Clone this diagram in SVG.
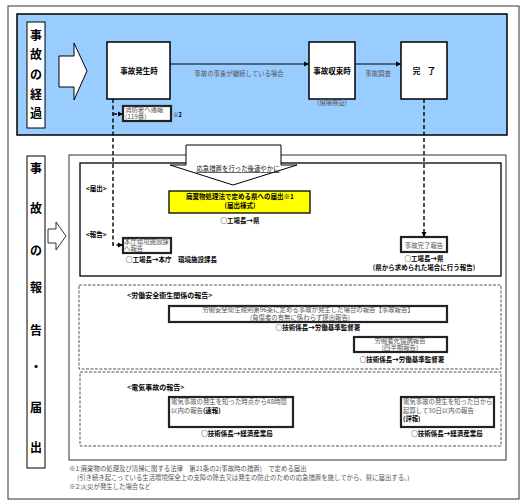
<svg xmlns="http://www.w3.org/2000/svg" width="526" height="504" viewBox="0 0 526 504">
<defs>
<style>
text{font-family:"Noto Sans CJK JP","Noto Sans CJK SC",sans-serif;}
.box{fill:#fff;stroke:#000;stroke-width:1.5;}
.thk{fill:#fff;stroke:#222;stroke-width:2.2;}
.b{font-weight:bold;fill:#000;}
.t{fill:#555;font-size:6.4px;}
.s{fill:#111;font-size:6.4px;}
.vl{font-size:12px;font-weight:bold;fill:#000;text-anchor:middle;}
.dbox{fill:none;stroke:#555;stroke-width:1;stroke-dasharray:3 1.5;}
.dash{fill:none;stroke:#000;stroke-width:1.4;stroke-dasharray:4 2.5;}
.con{fill:none;stroke:#000;stroke-width:1;}
.mid{text-anchor:middle;}
</style>
<marker id="ah" markerWidth="6" markerHeight="6" refX="5" refY="3" orient="auto" markerUnits="userSpaceOnUse">
<path d="M0,0.5 L5,3 L0,5.5 Z" fill="#000"/>
</marker>
</defs>
<rect x="0" y="0" width="526" height="504" fill="#fff"/>
<rect x="8" y="6" width="511" height="493" fill="none" stroke="#333" stroke-width="1"/>

<g id="sec-progress">
<rect x="17" y="14" width="490" height="121" fill="#99CCFF" stroke="#000" stroke-width="1.5"/>
<rect x="27" y="22" width="18" height="106" fill="#fff" stroke="#000" stroke-width="1"/>
<text class="vl" x="36" y="40">事</text>
<text class="vl" x="36" y="59">故</text>
<text class="vl" x="36" y="79">の</text>
<text class="vl" x="36" y="99">経</text>
<text class="vl" x="36" y="118">過</text>
<path d="M59,56 L74,56 L74,43 L87,71 L74,100 L74,87 L59,87 Z" fill="#fff" stroke="#000" stroke-width="1"/>
</g>

<g id="n-occur">
<rect class="box" x="107" y="42" width="63" height="57"/>
<text class="b mid" x="139" y="74" font-size="7.5">事故発生時</text>
</g>
<g id="n-settle">
<rect class="box" x="309" y="42" width="46" height="57"/>
<text class="b mid" x="332" y="74" font-size="7.5">事故収束時</text>
<text class="t mid" x="332" y="105">(現場検証)</text>
</g>
<g id="n-done">
<rect class="box" x="401" y="42" width="46" height="57"/>
<text class="b mid" x="424" y="74" font-size="7.5">完　了</text>
</g>
<g id="n-fire">
<rect class="thk" x="123" y="106" width="48" height="15"/>
<text class="t" x="125" y="111.8" font-size="5px">消防署へ通報</text>
<text class="t" x="125" y="119.3" font-size="5px">(119番)</text>
<text class="b" x="173" y="117" font-size="5.5">※2</text>
</g>

<g id="sec-report">
<rect x="27" y="156" width="18" height="312" fill="#fff" stroke="#000" stroke-width="1"/>
<text class="vl" x="36" y="173">事</text>
<text class="vl" x="36" y="213">故</text>
<text class="vl" x="36" y="255">の</text>
<text class="vl" x="36" y="292">報</text>
<text class="vl" x="36" y="335">告</text>
<text class="vl" x="36" y="372">・</text>
<text class="vl" x="36" y="412">届</text>
<text class="vl" x="36" y="452">出</text>
<path d="M48,229 L56,229 L56,222 L66,236 L56,250 L56,243 L48,243 Z" fill="#fff" stroke="#000" stroke-width="0.8"/>
<rect x="69" y="155" width="437" height="305" fill="none" stroke="#333" stroke-width="1"/>
<rect x="80" y="163" width="421" height="113" fill="none" stroke="#000" stroke-width="1.3"/>
<text class="b" x="86" y="191" font-size="6.5">&lt;届出&gt;</text>
<text class="b" x="86" y="237" font-size="6.5">&lt;報告&gt;</text>
<path d="M186,145 L281,145 L281,165 L297,165 L233,185 L170,165 L186,165 Z" fill="#fff" stroke="#000" stroke-width="1"/>
<text class="s mid" x="238" y="171" font-size="6.2" text-decoration="underline">応急措置を行った後速やかに</text>
</g>

<g id="n-notify">
<rect x="169" y="191" width="141" height="22" fill="#FFFF00" stroke="#000" stroke-width="1.3"/>
<text class="b mid" x="240" y="199" font-size="6.5">廃棄物処理法で定める県への届出※1</text>
<text class="b mid" x="240" y="208" font-size="6.5">(届出様式)</text>
<text class="b mid" x="240" y="223" font-size="6.5">○工場長→県</text>
</g>
<g id="n-honcho">
<rect class="thk" x="123" y="238" width="48" height="15"/>
<text class="t" x="124" y="243.8" font-size="5px">本庁環境施設課</text>
<text class="t" x="124" y="251.3" font-size="5px">へ報告</text>
<text class="b" x="126" y="262" font-size="6.5">○工場長→本庁　環境施設課長</text>
</g>
<g id="n-complete">
<rect class="thk" x="401" y="237" width="46" height="15" stroke="#444"/>
<text class="t mid" x="424" y="247.5" font-size="6.3px">事故完了報告</text>
<text class="b mid" x="424" y="261" font-size="6.5">○工場長→県</text>
<text class="b mid" x="424" y="270" font-size="6.5">(県から求められた場合に行う報告)</text>
</g>

<g id="sec-labor">
<rect class="dbox" x="79" y="285" width="422" height="84"/>
<text class="b" x="127" y="298" font-size="7">&lt;労働安全衛生関係の報告&gt;</text>
</g>
<g id="n-labor1">
<rect class="thk" x="169" y="306" width="278" height="16"/>
<text class="t mid" x="308" y="312" font-size="5.6px">労働安全衛生規則第96条に定める事故が発生した場合の報告【事故報告】</text>
<text class="t mid" x="300" y="320" font-size="5.6px">(負傷者の有無に係わらず提出報告)</text>
<text class="b mid" x="318" y="330" font-size="6.5">○技術係長→労働基準監督署</text>
</g>
<g id="n-labor2">
<rect class="thk" x="354" y="337" width="93" height="15"/>
<text class="t mid" x="400" y="342.8" font-size="5px">労働者死傷病報告</text>
<text class="t mid" x="400" y="350.3" font-size="5px">(四半期報告)</text>
<text class="b mid" x="402" y="361.5" font-size="6.5">○技術係長→労働基準監督署</text>
</g>

<g id="sec-elec">
<rect class="dbox" x="80" y="372" width="421" height="74"/>
<text class="b" x="127" y="390" font-size="7">&lt;電気事故の報告&gt;</text>
</g>
<g id="n-elec1">
<rect class="thk" x="169" y="397" width="124" height="30"/>
<text class="t" x="171" y="404" font-size="6.3px">電気事故の発生を知った時点から48時間</text>
<text class="t" x="171" y="412.5" font-size="6.3px">以内の報告<tspan class="b">(速報)</tspan></text>
<text class="b mid" x="237" y="436" font-size="6.5">○技術係長→経済産業局</text>
</g>
<g id="n-elec2">
<rect class="thk" x="401" y="397" width="93" height="30"/>
<text class="t" x="403" y="404" font-size="6.3px">電気事故の発生を知った日から</text>
<text class="t" x="403" y="412.5" font-size="6.3px">起算して30日以内の報告</text>
<text class="b" x="403" y="421" font-size="6.3">(詳報)</text>
<text class="b mid" x="447" y="436" font-size="6.5">○技術係長→経済産業局</text>
</g>

<g id="connectors">
<line class="con" x1="170" y1="64" x2="309" y2="64" marker-end="url(#ah)"/>
<text class="t mid" x="239" y="76" font-size="7px">事故の事象が継続している場合</text>
<line class="con" x1="355" y1="64" x2="401" y2="64" marker-end="url(#ah)"/>
<text class="t mid" x="378" y="76" font-size="7px">事故調査</text>
<path class="dash" d="M113,99 L113,245 L121,245"/>
<path class="con" d="M120,245 L123,245" marker-end="url(#ah)"/>
<path class="dash" d="M113,114 L120,114"/>
<path class="con" d="M119,114 L123,114" marker-end="url(#ah)"/>
<path class="dash" d="M424,99 L424,233"/>
<path class="con" d="M424,232 L424,237" marker-end="url(#ah)"/>
</g>

<g id="notes">
<text class="t" x="69" y="471" font-size="6.3px">※1:廃棄物の処理及び清掃に関する法律　第21条の2(事故時の措置)　で定める届出</text>
<text class="t" x="77" y="479.5" font-size="6.3px">(引き続き起こっている生活環境保全上の支障の除去又は発生の防止のための応急措置を施してから、県に届出する。)</text>
<text class="t" x="69" y="489" font-size="6.3px">※2:火災が発生した場合など</text>
</g>
</svg>
